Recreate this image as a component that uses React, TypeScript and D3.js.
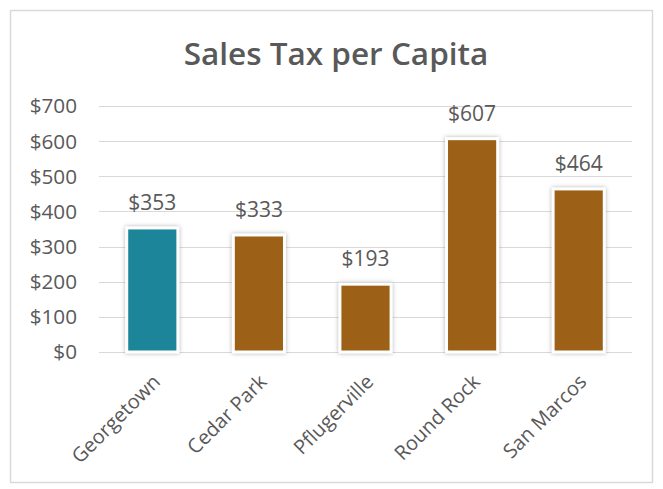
import React from "react";
import * as d3 from "d3";

const categories = ["Georgetown", "Cedar Park", "Pflugerville", "Round Rock", "San Marcos"];
const values = [353, 333, 193, 607, 464];
const highlighted = ["Georgetown"];
const yTicks = [0, 100, 200, 300, 400, 500, 600, 700];
const title = "Sales Tax per Capita";

const W = 663;
const H = 489;
const plot = { left: 99, right: 632, top: 106, bottom: 352 };
const TEAL = "#1b8599";
const BROWN = "#9c6115";
const TEXT = "#595959";
const FONT = "'Open Sans', 'Noto Sans', sans-serif";

export default function App() {
  const x = d3.scaleBand<string>().domain(categories).range([plot.left, plot.right]).paddingInner(0.52).paddingOuter(0.26);
  const y = d3.scaleLinear().domain([0, 700]).range([plot.bottom, plot.top]);
  const fmt = (v: number) => "$" + d3.format(",d")(v);

  return (
    <div style={{ position: "absolute", left: 0, top: 0 }}>
      <svg width={W} height={H} style={{ display: "block", background: "#fff" }}>
        <defs>
          <filter id="sh" x="-30%" y="-30%" width="160%" height="160%">
            <feDropShadow dx="0" dy="0" stdDeviation="2.2" floodColor="#7f7f7f" floodOpacity="0.6" />
          </filter>
        </defs>
        <rect x={10.5} y={10.5} width={642} height={472} fill="#fff" stroke="#d9d9d9" strokeWidth={1.5} />
        <text x={336} y={65} textAnchor="middle" fontFamily={FONT} fontWeight={600} fontSize={31.5} fill={TEXT}>
          {title}
        </text>
        {yTicks.map((t) => (
          <g key={t}>
            <line x1={plot.left} x2={plot.right} y1={Math.round(y(t)) + 0.5} y2={Math.round(y(t)) + 0.5} stroke="#d9d9d9" strokeWidth={1} />
            <text x={77} y={y(t)} dy="0.36em" textAnchor="end" fontFamily={FONT} fontSize={20.7} fill={TEXT}>
              {fmt(t)}
            </text>
          </g>
        ))}
        {categories.map((c, i) => {
          const bx = x(c) as number;
          const bw = x.bandwidth();
          const top = y(values[i]);
          return (
            <g key={c}>
              <rect
                x={bx}
                y={top}
                width={bw}
                height={plot.bottom - top}
                fill={highlighted.includes(c) ? TEAL : BROWN}
                stroke="#fff"
                strokeWidth={3}
                filter="url(#sh)"
              />
              <text x={bx + bw / 2} y={top - 18} textAnchor="middle" fontFamily={FONT} fontSize={21} fill={TEXT}>
                {fmt(values[i])}
              </text>
              <text
                transform={`translate(${bx + bw / 2 + 4},${plot.bottom + 26}) rotate(-45)`}
                textAnchor="end"
                dy="0.36em"
                fontFamily={FONT}
                fontSize={20}
                fill={TEXT}
              >
                {c}
              </text>
            </g>
          );
        })}
      </svg>
    </div>
  );
}
